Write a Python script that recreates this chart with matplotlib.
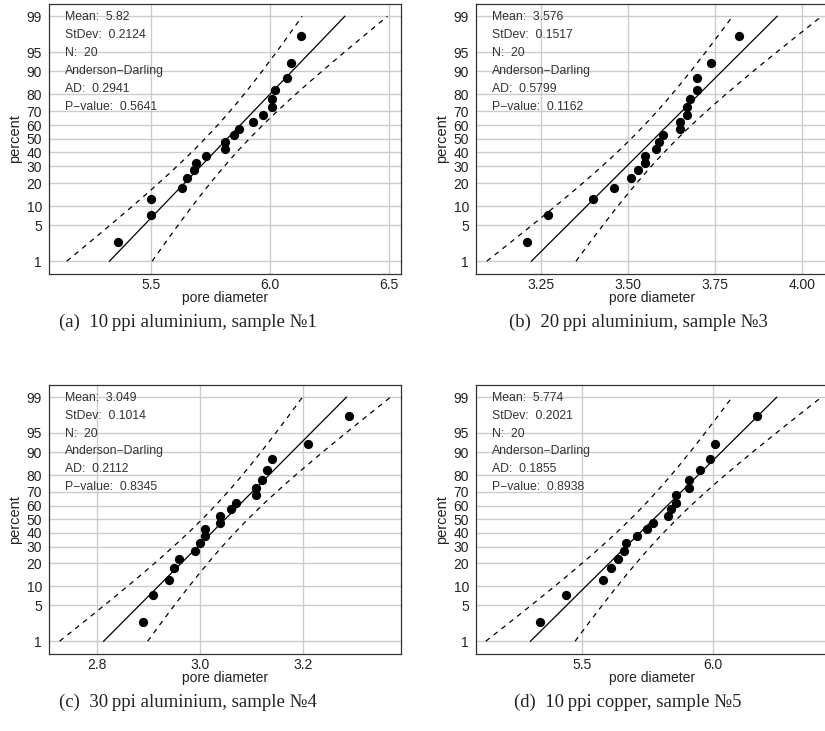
from statistics import NormalDist
import numpy as np
import matplotlib
matplotlib.use("Agg")
import matplotlib.pyplot as plt

# plotting positions (percent) shared by all four samples
percent = [2.5, 7.5, 12.5, 17.5, 22.5, 27.5, 32.5, 37.5, 42.5, 47.5,
           52.5, 57.5, 62.5, 67.5, 72.5, 77.5, 82.5, 87.5, 92.5, 97.5]

# sorted pore diameters per sample
d_al10 = [5.36, 5.50, 5.50, 5.63, 5.65, 5.68, 5.69, 5.73, 5.81, 5.81,
          5.85, 5.87, 5.93, 5.97, 6.01, 6.01, 6.02, 6.07, 6.09, 6.13]
d_al20 = [3.21, 3.27, 3.40, 3.46, 3.51, 3.53, 3.55, 3.55, 3.58, 3.59,
          3.60, 3.65, 3.65, 3.67, 3.67, 3.68, 3.70, 3.70, 3.74, 3.82]
d_al30 = [2.89, 2.91, 2.94, 2.95, 2.96, 2.99, 3.00, 3.01, 3.01, 3.04,
          3.04, 3.06, 3.07, 3.11, 3.11, 3.12, 3.13, 3.14, 3.21, 3.29]
d_cu10 = [5.34, 5.44, 5.58, 5.61, 5.64, 5.66, 5.67, 5.71, 5.75, 5.77,
          5.83, 5.84, 5.86, 5.86, 5.91, 5.91, 5.95, 5.99, 6.01, 6.17]

means = [5.82, 3.576, 3.049, 5.774]
stdevs = [0.2124, 0.1517, 0.1014, 0.2021]
n_samples = [20, 20, 20, 20]
ad_values = ["0.2941", "0.5799", "0.2112", "0.1855"]
p_values = ["0.5641", "0.1162", "0.8345", "0.8938"]
mean_labels = ["5.82", "3.576", "3.049", "5.774"]
stdev_labels = ["0.2124", "0.1517", "0.1014", "0.2021"]

x_ticks = [[5.5, 6.0, 6.5], [3.25, 3.50, 3.75, 4.00], [2.8, 3.0, 3.2], [5.5, 6.0]]
x_ticklabels = [["5.5", "6.0", "6.5"], ["3.25", "3.50", "3.75", "4.00"],
                ["2.8", "3.0", "3.2"], ["5.5", "6.0"]]
x_limits = [(5.072, 6.55), (3.064, 4.075), (2.707, 3.391), (5.096, 6.44)]

y_ticks = [1, 5, 10, 20, 30, 40, 50, 60, 70, 80, 90, 95, 99]

captions = ["(a)  10\u2009ppi aluminium, sample \u21161",
            "(b)  20\u2009ppi aluminium, sample \u21163",
            "(c)  30\u2009ppi aluminium, sample \u21164",
            "(d)  10\u2009ppi copper, sample \u21165"]

datasets = [d_al10, d_al20, d_al30, d_cu10]

nd = NormalDist()


def probit(p):
    return np.array([nd.inv_cdf(v / 100.0) for v in p])


W, H = 825, 731
fig = plt.figure(figsize=(W / 100, H / 100), dpi=100)
plt.rcParams['font.family'] = ['Liberation Sans', 'DejaVu Sans']

# axes boxes in pixels: left, top, width, height
boxes = [(49, 4, 352, 270), (476, 4, 352, 270), (49, 385, 352, 269), (476, 385, 352, 269)]
caption_pos = [(188, 322), (638, 322), (188, 702), (628, 702)]

z_pts = probit(percent)
z_line = np.linspace(nd.inv_cdf(0.01), nd.inv_cdf(0.99), 200)

for i, (l, t, w, h) in enumerate(boxes):
    ax = fig.add_axes([l / W, 1 - (t + h) / H, w / W, h / H])
    m, s, n = means[i], stdevs[i], n_samples[i]

    # fitted normal line and 95% bounds of the percentiles
    ax.plot(m + s * z_line, z_line, color="black", lw=0.9)
    half = 1.96 * s * np.sqrt(1.0 / n + z_line ** 2 / (2 * n))
    ax.plot(m + s * z_line - half, z_line, color="black", lw=0.9, ls=(0, (4, 4)))
    ax.plot(m + s * z_line + half, z_line, color="black", lw=0.9, ls=(0, (4, 4)))
    ax.scatter(datasets[i], z_pts, s=32, color="black", zorder=3)

    ax.set_xlim(*x_limits[i])
    ax.set_ylim(-2.57, 2.56)
    ax.set_xticks(x_ticks[i])
    ax.set_xticklabels(x_ticklabels[i])
    ax.set_yticks(probit(y_ticks))
    ax.set_yticklabels([str(v) for v in y_ticks])
    ax.tick_params(length=0, labelsize=10, colors="#222222")
    ax.tick_params(axis="y", pad=5)
    ax.tick_params(axis="x", pad=3)
    ax.grid(True, color="#cccccc", lw=1.0)
    ax.set_axisbelow(True)
    for sp in ax.spines.values():
        sp.set_color("#333333")
        sp.set_linewidth(0.9)

    ax.set_xlabel("pore diameter", fontsize=10, labelpad=-1, color="#222222")
    ax.set_ylabel("percent", fontsize=10.5, labelpad=3, color="#222222")

    lines = ["Mean:  " + mean_labels[i], "StDev:  " + stdev_labels[i], "N:  %d" % n,
             "Anderson\u2212Darling", "AD:  " + ad_values[i], "P\u2212value:  " + p_values[i]]
    for k, txt in enumerate(lines):
        ax.text(0.045, 0.953 - k * 0.0667, txt, transform=ax.transAxes,
                fontsize=8.8, va="center", ha="left", color="#333333")

    cx, cy = caption_pos[i]
    fig.text(cx / W, 1 - cy / H, captions[i], ha="center", va="center", fontsize=13.5,
             family=["Liberation Serif", "DejaVu Serif"], color="#222222")

fig.savefig("out.png", dpi=100)
